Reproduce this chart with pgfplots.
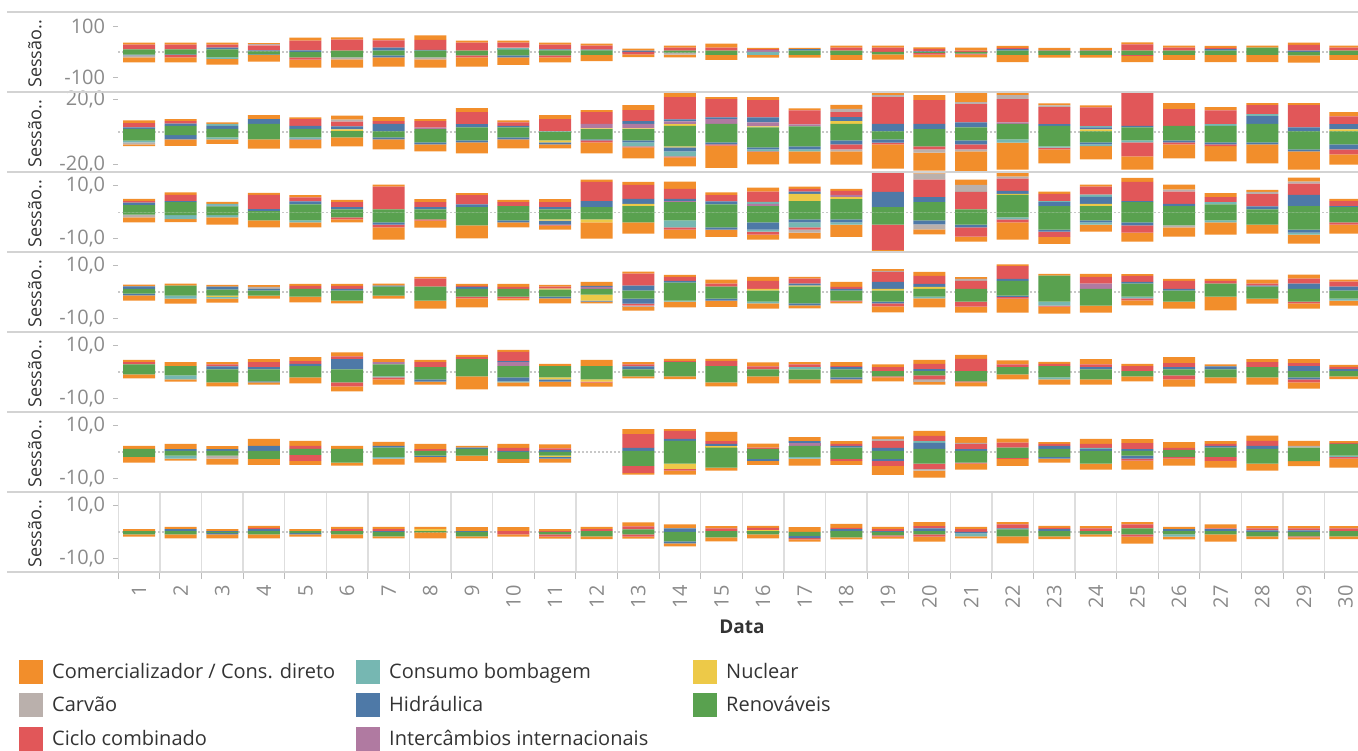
\documentclass[border=0pt]{standalone}
\usepackage{fontspec}
\setmainfont{Open Sans}
\usepackage{pgfplots}
\usepackage{pgfplotstable}
\pgfplotsset{compat=1.18}
\definecolor{cO}{HTML}{F28E2B}
\definecolor{cC}{HTML}{BAB0AC}
\definecolor{cR}{HTML}{E15759}
\definecolor{cT}{HTML}{76B7B2}
\definecolor{cB}{HTML}{4E79A7}
\definecolor{cP}{HTML}{B07AA1}
\definecolor{cY}{HTML}{EDC948}
\definecolor{cG}{HTML}{59A14F}
\definecolor{sep}{HTML}{D3D3D3}
\definecolor{vgrid}{HTML}{DEDEDE}
\definecolor{ticktext}{HTML}{8A8A8A}
\definecolor{tickc}{HTML}{BBBBBB}
\definecolor{zeroc}{HTML}{C8C8C8}
\definecolor{darktext}{HTML}{333333}
\newcommand{\ticksize}{\fontsize{20}{20}\selectfont}
\newcommand{\labsize}{\fontsize{18}{18}\selectfont}
\newcommand{\legsize}{\fontsize{20}{20}\selectfont}

% columns: d  Renovaveis Nuclear Intercambios Hidraulica Consumo Ciclo Carvao Comercializador
\pgfplotstableread{
d G Y P B T R C O
1 10.6 0 0 0 0 18.5 0 8
2 10.6 0 0 0 0 18.5 0 8
3 10.6 0 0 6.6 0 11.9 0 8
4 2.5 0 0 3.7 0 19.7 3.7 4.9
5 0 0 0 6.2 0 38 0 12.3
6 4.9 0 0 0 0 44 0 8
7 4.9 0 0 12.3 0 28.3 0 8
8 4.9 0 0 3.7 0 39.4 0 17.2
9 4.9 0 0 0 0 32 0 8
10 9.2 0 0 0 8 19.7 0 8
11 6.6 0 0 3.7 0 18.5 0 8
12 6.6 0 0 2.5 0 16 0 8
13 0 0 0 4.9 0 0 0 8
14 4.9 0 0 0 0 12.3 0 8
15 4.9 0 0 0 0 12.3 0 16
16 0 0 6.2 0 0 4.9 0 4.9
17 4.9 0 0 6.2 0 0 0 4.9
18 4.9 0 0 0 0 12.3 0 8
19 0 0 0 0 0 17.2 0 8
20 0 0 0 2.5 0 9.8 0 6.2
21 0 0 0 0 0 4.9 0 12.3
22 4.9 0 0 6.2 0 4.9 0 8
23 4.9 0 0 0 0 3.7 0 8
24 4.9 0 0 0 0 3.7 0 8
25 4.9 0 0 0 0 24.6 0 8
26 4.9 0 0 0 0 12.3 0 8
27 4.9 0 0 6.2 0 4.9 0 8
28 17.2 0 0 0 0 0 0 8
29 0 0 0 4.9 0 23.4 0 8
30 4.9 0 0 0 0 12.3 0 8
}\PaP
\pgfplotstableread{
d G Y P B T R C O
1 10.6 0 0 2.5 0 0 8 19.7
2 9.2 0 0 2.5 0 9.2 0 19.7
3 20.9 0 0 0 6.6 0 0 22.1
4 9.8 0 0 1.2 0 0 0 27
5 20.9 0 0 0 0 9.2 0 30.8
6 20.9 0 0 0 0 0 8 32
7 13.5 0 0 8 0 0 0 35.7
8 20.9 0 0 0 0 0 8 32
9 13.5 0 0 0 0 8 0 35.7
10 13.5 0 0 8 0 0 0 29.5
11 13.5 0 0 0 0 8 0 19.7
12 11.1 0 0 0 0 0 0 24.6
13 0 0 0 0 0 9.2 0 11.1
14 2.5 0 0 0 0 0 8 11.1
15 11.1 0 0 0 0 0 0 19.7
16 0 0 0 0 11.1 0 0 11.1
17 11.1 0 0 0 0 0 0 11.1
18 11.1 0 0 0 0 0 0 19.7
19 9.8 0 0 0 0 0 0 19.7
20 3.7 0 0 0 0 6.2 0 11.1
21 6.2 0 0 0 0 3.7 0 11.1
22 11.1 0 0 0 0 0 0 28.3
23 11.1 0 0 0 0 0 0 11.1
24 11.1 0 0 0 0 0 0 11.1
25 11.1 0 0 0 0 3.7 0 24.6
26 11.1 0 0 0 0 0 0 19.7
27 11.1 0 0 0 0 0 0 28.3
28 11.1 0 0 0 0 0 0 28.3
29 13.5 0 0 0 0 0 0 28.3
30 11.1 0 0 0 0 0 0 19.7
}\PaN
\pgfplotstableread{
d G Y P B T R C O
1 1.9 0 0 1 0 2.5 0 1.7
2 3.7 0 0 1.5 0 1.5 0 1.2
3 1.9 0 0 1.9 1.2 0 0 1
4 5 0 0 2.9 0 0 0 2.5
5 1.9 0 0 1.9 0 4.1 0 1.2
6 0.6 1 0 1.9 0 2.9 1.2 2.5
7 0.4 0 0 4.6 0 1.7 0 2.5
8 1.7 0 1 0 0 4 0 1.2
9 2.9 0 0 2 0 7.3 0 2.5
10 2.9 0 0 0.8 0 2.3 0 1.2
11 0 0 0 0 0.4 7.5 0 2.5
12 1.7 0.6 2.7 0 0 7.3 0 1.2
13 1.7 0.6 2.7 1.7 0 6.8 0 3.1
14 3.7 1.2 1.7 1.2 0 13.7 0 2.5
15 5 0 2.9 1.2 0 11.2 0 1.2
16 2.9 0.6 2.5 3.1 0 10.6 0 1.9
17 3.5 0 1.2 0 0 8.7 0 1.2
18 5 1.7 0 2.5 0 3.1 1.9 2.5
19 0.4 0 0 4.6 0 16.6 1.2 1.2
20 1.7 0 0 3.3 0 14.7 0 3.1
21 2.9 0 0 3.1 0 11.2 1.2 5.6
22 5 0 1 0 0 14.3 2.5 1.2
23 3.7 0 0 1.2 0 10.4 1.2 1.2
24 0.4 1.2 0 1.2 0.8 11.6 0 1.2
25 2.9 0 0 0.8 0 20.3 0.6 0
26 3.7 0 0 0 0 10.4 0 3.7
27 3.7 0 0 0 1.2 8.5 0 1.9
28 5 0 0 4.8 1.2 5.6 0 1.2
29 0.4 0 0 2.5 0 13.7 0 1.2
30 0.4 1.2 0 3.3 0 4.8 0 2.5
}\PbP
\pgfplotstableread{
d G Y P B T R C O
1 5.4 0 0 0 1 0 1.2 1.2
2 2 0 0 2.5 0 0 0 4.1
3 3.3 0 0 0 1.2 0 0 2.9
4 4.6 0 0 0 0 0 0 5.6
5 3.3 0 0 0 1.2 0.4 0 5.2
6 3.3 0 0 0 0 0 0 5.6
7 3.3 0 0 1.2 0 0 0 6.2
8 6.4 0 0 1.2 0 0 0 4.4
9 5.2 0 0 1.2 0 0 0 6.8
10 3.3 0 0 1.2 0 0 0 5.6
11 5.2 1.2 0 1.2 0 0 0 2.5
12 4.6 0 0 0.6 0 1.2 0 6.8
13 5.2 0 0 1.2 2.5 0.6 0 6.8
14 8.9 0.6 0 2.5 3.1 0.6 0 5.6
15 6.4 0 0 1.2 0 0.8 0 13.7
16 9.5 0 0 1.2 1.2 0.4 0 7.7
17 8.9 0 0 1.9 1.2 0 0 7.5
18 5.2 0 0 2.5 0 3.1 1.2 8.1
19 4.6 0 0 1.9 0 1.2 0 14.9
20 8.9 0 0 0 0 1.9 1.9 11.2
21 5.2 0 0 2.5 0 3.1 1.2 13
22 4.6 0 0 0 1.9 0 0 16.8
23 8.9 0 0 0 0.8 1 0 8.7
24 6.4 0 0 1.2 1.2 0 0 8.1
25 5.2 0 0 0 1.2 8.7 0 8.1
26 5.2 0 0 1.2 0 1.2 0 8.7
27 6.4 0 0 1.2 0 1.2 0 9.3
28 6.4 0 0 1.2 0 0 0 11.8
29 10.8 0 0 1.2 0 0 0 11.2
30 7.7 0 0 3.1 0 3.1 0 6.2
}\PbN
\pgfplotstableread{
d G Y P B T R C O
1 2.7 0 0 0.9 0 0.6 0 0.8
2 3.8 0 0 0.4 0 2.3 0 1
3 2.2 0 0 0.3 0.6 0 0 0.8
4 0.4 0 0 0.8 0 5.3 0 0.8
5 3 0 0 1.1 0 1.5 0 0.8
6 1.1 0 0 0.8 0 1.9 0 0.8
7 1.1 0 0 0 0 8.5 0 0.8
8 1.1 0 0 0.8 0 1.9 0 1.1
9 1.9 0 0 1.1 0 3.4 0 0.8
10 2.3 0 0 0 0 1.5 0 0.8
11 1.1 0 0 0.8 0 1.9 0 1.1
12 1.9 0 0 2.3 0 7.2 0 0.8
13 2.3 0.8 0 1.9 0 5.3 0 1.1
14 3.8 0 0.4 0.8 0 3.8 0 2.7
15 3 0 0 1.1 0 2.3 0 1.1
16 2.3 0 0.8 0 0.8 3.8 0 1.5
17 4.2 2.7 0 0.8 0 1.1 0 0.8
18 4.9 0.8 0.8 0 0 1.5 0 0.8
19 1.9 0 0 5.7 0 7.2 0.4 0
20 3.8 0 0 1.9 0 6.5 2.3 2.5
21 1.1 0 0 0 0 6.5 2.7 1.9
22 6.5 0.4 0 1.1 0 4.6 0.8 1.5
23 2.3 0 0 1.5 0.4 2.7 0 0.8
24 2.3 0.8 0 2.7 0.8 3 0 0.8
25 3.8 0 0 0.4 0 7.2 0 1.5
26 2.3 0 0 0.8 0 4.6 0.8 1.9
27 3 0 0 0 0.8 1.9 0 1.5
28 1.1 0 0 1.1 0 4.6 0.8 0.8
29 2.3 0 0 4.2 0 4.2 0.8 1.5
30 1.9 0 0 0.4 0 1.9 0 0.8
}\PcP
\pgfplotstableread{
d G Y P B T R C O
1 0.9 0 0 0 0 0 1 1.9
2 1.1 0 0 0 1.5 0 0 1.1
3 1.1 0 0 0 0.8 0 0 2.7
4 3 0 0 0 0 0 0 2.7
5 3 0 0 0 0.8 0 0 1.9
6 1.9 0 0 0 0 0.8 0 1.1
7 3.8 0 0 0.8 0 1.1 0 4.6
8 2.7 0 0 0 0 0.4 0 2.7
9 4.9 0 0 0 0 0 0 4.9
10 3 0 0 0.8 0 0 0 1.9
11 2.7 0.4 0 1.5 0 0.4 0 1.5
12 2.7 1.1 0 0 0 0 0 6.1
13 3.8 0 0 0 0 0 0 4.2
14 3 0 0 0 2.7 0.8 0 3.4
15 5.7 0 0 0.8 0 0 0 2.7
16 3.8 0 0 2.7 0.8 1.1 0 1.9
17 2.7 0 0 1.1 1.9 0.8 1.1 2.3
18 2.7 0 0 1.1 0.8 0 0 4.6
19 4.6 0 0 0 0 9.5 0 0.4
20 3 0 0 1.5 0 0 1.9 1.9
21 4.6 0 0 1.1 0 3.4 0 1.9
22 1.9 0 0 0 0.8 1.1 0 6.5
23 6.5 0 0 0.8 0 1.9 0 2.7
24 3 0 0 0.8 0.8 0 0 2.7
25 3.8 0 0 1.1 0 2.7 0 3.4
26 4.9 0 0 0 0 0 0.8 3.4
27 3 0 0 0 0.8 0 0 4.6
28 4.6 0 0 0 0 0 0 3.4
29 6.5 0 0 1.1 0.8 0 0 3.4
30 3.8 0 0 0 0 0.8 0 3.4
}\PcN
\pgfplotstableread{
d G Y P B T R C O
1 1.2 0 0 0.9 0 0 0 0.7
2 2.4 0 0 0 0 0 0 0.7
3 0.9 0 0 1.1 0 0 0 0.7
4 0.5 0 0 0.7 0 0 0.7 0.7
5 1.2 0 0 0 0 1.1 0 0.7
6 0.5 0 0 0.7 0 1.1 0 0.7
7 2 0 0 0.4 0 0 0 0.7
8 2 0 0 0 0 3 0 0.7
9 1.2 0 0 0.7 0 0.4 0 0.7
10 1.2 0 0 0 0 0.7 0 1.1
11 0.9 0.4 0 0 0 0.7 0 0.7
12 1.2 0 0.7 0.4 0 0 0 1.5
13 0.5 0 0 1.9 0 4.5 0 0.7
14 3.5 0 0 0.7 0 1.5 0 0.7
15 2 0 0 0 0 1.1 0 1.5
16 0.5 0.7 0 0 0 3 0 1.5
17 2 0.4 0 0.7 0 1.9 0 0.7
18 0.5 0 0 0.7 0 0.7 0 1.9
19 0.5 0.7 0 2.6 0 3.7 0.4 0.7
20 1.2 0.7 0 1.1 0 3 0 1.5
21 1.2 0 0 0 0 3 0.7 0.7
22 4.2 0 0 0.7 0 4.8 0 0.7
23 6.1 0 0 0 0 0 0 0.7
24 1.2 0 1.9 0 0 2.6 0 1.1
25 3.1 0 0 0.7 0 2.2 0 0.7
26 0.5 0 0 0.7 0 3 0 0.7
27 3.1 0 0 0 0 1.1 0 0.7
28 2 0 0 0.4 0 0.7 0 1.5
29 1.2 0 0 1.9 0 1.9 0 1.5
30 0.5 0 0 1.5 0 1.9 0 0.7
}\PdP
\pgfplotstableread{
d G Y P B T R C O
1 0.6 0 0 0.7 0 0 0 1.9
2 1.4 0 0 0 1.1 0 0 1.9
3 1.4 0.4 0 0 0.7 0 0 1.5
4 1.4 0 0 0 0 0 0 1.1
5 1.7 0 0 0 0 0 0 2.2
6 3.2 0 0 0 0 0 0 1.1
7 1.4 0 0 0 0 0 0 1.1
8 3.2 0 0 0 0 0 0 3
9 1.7 0 0 0 0 0.7 0 3.4
10 1.7 0 0 0 0 0.7 0 0.7
11 1.7 0 0 0.7 0 0 0 1.9
12 1 2.2 0 0.4 0 0 0 0.7
13 2.5 0 0 1.9 0 0.7 0.4 1.5
14 3.2 0 0 0 0.4 0 0 2.2
15 2.5 0 0 0.7 0 0 0 2.4
16 3.6 0 0 0 0.7 0 0 1.9
17 4.3 0 0 0.7 0 0 0 1.1
18 3.2 0 0 0 0 0.4 0 0.7
19 3.6 0 0 0.7 0 1.1 0 2.2
20 1.7 0 0 0 0.7 0 0 3.4
21 3.6 0 0 0 0 1.9 0 2.2
22 1.4 0 0 0.4 0 0.7 0 5.2
23 3.6 0 0 0 1.5 0.4 0 2.6
24 5.1 0 0 0 0 0 0 2.6
25 1.7 0 0 0 0.7 0.7 0 1.9
26 3.6 0 0 0 0 0 0 2.6
27 1.7 0 0 0 0 0 0 5.2
28 2.5 0 0 0 0 0 0 1.9
29 3.6 0 0 0 0 0.7 0 1.9
30 2.5 0 0 0 0.7 0 0 1.9
}\PdN
\pgfplotstableread{
d G Y P B T R C O
1 2.9 0 0 0 0 0.8 0 0.8
2 2.2 0 0 0 0 0 0 1.5
3 1 0 0 1.1 0 0.8 0 0.8
4 1 0 0 0.8 0 1.9 0 1.1
5 2.2 0 0 0.8 0 1.1 0 1.5
6 1 0 0 3.8 0 1.1 0 1.5
7 2.9 0 0.8 0 0 0 0 1.1
8 1.8 0 0 0 0 1.9 0 0.8
9 4.8 0 0 0 0 0.8 0 0.8
10 2.2 0 1.5 0.4 0 3.4 0 0.8
11 2.2 0 0 0 0 0 0 0.8
12 2.2 0 0 0 0 0 0 2.3
13 1 0 0 1.1 0 0.8 0 0.8
14 3.7 0 0 0 0 0.4 0 0.8
15 2.2 0 0 0 0 1.9 0 0.8
16 1 0 0 0 0 1.1 0 1.5
17 1 0 0 0 0.8 1.1 0 0.8
18 1 0 0 0.8 0 0.4 0 1.5
19 0.3 0 0 0 0 1.5 0 1.1
20 0.3 0 0 0.8 0 1.9 0 1.5
21 0.3 0 0 0 0 4.6 0 1.5
22 1.8 0 0 0 0 1.1 0 1.5
23 2.2 0 0 0 0 0.8 0 0.8
24 1 0 0 0.8 0 1.1 0 1.9
25 0.3 0 0 0 0 1.9 0 0.8
26 1 0 0 0.8 0 1.5 0 2.3
27 1 0 0 1.1 0 0 0 0.8
28 1.8 0 0 0 0 1.9 0 1.1
29 0.3 0 0 1.9 0 1.1 0 1.5
30 0.3 0 0 0.8 0 0.8 0 0.8
}\PeP
\pgfplotstableread{
d G Y P B T R C O
1 0.9 0 0 0 0 0 0 1.5
2 1.3 0 0 0 1.5 0 0 0.8
3 3.9 0 0 0 0 0 0 1.5
4 3.5 0 0 0.4 0 0 0 0.8
5 2 0 0 0 0 0 0 2.3
6 3.9 0 0 0 0 1.5 0 1.9
7 1.6 0 0 0 0.4 0.8 0 1.9
8 2.8 0 0 0.8 0 0 0 1.1
9 1.6 0 0 0 0 0 0 4.9
10 2 0 0 1.5 0.4 0 0 1.5
11 2 0.8 0 0.8 0 0 0 1.9
12 2.8 0.8 0 0 0 0.4 0 1.5
13 1.6 0 0 0 0 0 0 0.8
14 1.6 0 0 0 0 0 0 1.1
15 3.9 0 0 0 0 0 0 1.5
16 1.6 0 0 0 0 0 0 2.7
17 2.8 0 0 0 0 0 0 1.5
18 2 0 0 0.8 0 0 0 1.5
19 1.6 0 0 0 0 0.4 0 1.5
20 1.3 0 0 0 0 1.5 0.8 1.1
21 3.5 0 0 0 0 0.4 0 1.5
22 0.9 0 0 0 0 0 0 1.9
23 2 0 0 0 0.8 0 0 1.9
24 2.8 0 0 0 0 0 0 1.9
25 1.6 0 0 0 0 0 0 1.9
26 1.3 0 0 0 0 1.5 0 2.7
27 2 0 0 0 0 0 0 2.3
28 2 0 0 0 0 0 0 2.7
29 2 0 0 0.8 0 1.1 0 2.3
30 1.6 0 0 0 0 0 0 1.1
}\PeN
\pgfplotstableread{
d G Y P B T R C O
1 1.2 0 0 0 0 0 0 1.1
2 0.4 0 0 0.7 0 0 0 1.9
3 0.4 0 0 0.7 0 0 0 1.1
4 0.4 0 0 1.9 0 0 0 2.6
5 1.2 0 0 0 0 1.1 0 1.9
6 1.2 0 0 0 0 0 0 1.1
7 1.6 0 0 0.7 0 0 0 1.5
8 0.4 0 0 0 0 0.7 0 1.9
9 1.2 0 0 0.4 0 0 0 0.7
10 0 0 0 0.4 0 1.1 0 1.5
11 0 0 0 0.7 0 0.7 0 1.5
12 0 0 0 0 0 0 0 0
13 0.4 0 0 1.1 0 5.2 0 1.9
14 4.2 0 0 0.7 0 3 0 0.7
15 1.6 0.7 0 0.7 0 1.1 0 3.4
16 1.2 0 0 0 0 0.4 0 1.5
17 2.3 0 1.1 0.7 0 0 0 1.5
18 1.6 0 0 0.7 0 0.7 0 1.1
19 0.4 0 0 1.1 0 2.6 0.7 1.1
20 1.2 0 0 2.2 0.7 1.9 0 1.9
21 0.4 0 0 0.7 0 1.9 0.4 2.2
22 1.6 0 0 0 0 1.9 0 1.5
23 1.2 0 0 1.1 0 0.7 0 0.7
24 0.4 0 0 0.7 0.4 1.5 0 1.9
25 0.4 0 0 0.7 0 2.2 0 1.5
26 0.8 0 0 0 0 0.7 0 2.2
27 1.6 0 0 0.7 0 0.7 0 1.1
28 1.2 0 0 1.1 0 1.9 0 1.9
29 1.6 0 0 0 0 0 0.7 1.9
30 3 0 0 0 0 0.4 0 0.7
}\PfP
\pgfplotstableread{
d G Y P B T R C O
1 1.8 0 0 0 0 0 0 2.2
2 1.4 0 0 0 1.1 0 0 0.7
3 1.4 0 0 0 0 0 1.1 2.2
4 2.6 0 0 0 0 0 0 2.2
5 1.1 0 0 0 0 2.2 0 1.5
6 4 0 0 0 0 0 0 1.1
7 1.8 0 0 0 0.7 0 0 2.2
8 1.4 0 0 0.4 0 0 0 2.2
9 1.4 0 0 0 0 0 0 1.9
10 2.6 0 0 0 0 0 0 1.5
11 1.4 0.4 0 0.7 0 0 0 1.5
12 0 0 0 0 0 0 0 0
13 5.2 0 0 0 0 2.6 0 0.7
14 4.4 1.9 0 0 0 0.7 0 1.5
15 5.9 0 0 0 0 0 0 1.1
16 2.6 0 0 0.7 0 0 0 1.5
17 1.8 0 0 0 0.7 0 0 2.6
18 2.6 0 0 0 0 0.7 0 1.5
19 2.6 0 0 0.7 0 1.9 0 3.4
20 4.4 0 0 0 0 1.9 0.7 2.6
21 4 0 0 0 0 0.4 0 2.2
22 2.2 0 0 0 0 0.4 0 2.6
23 1.8 0 0 0.7 0 0 0 1.5
24 4.4 0 0 0 0 0 0 2.2
25 1.4 0 0 1.1 0 0.7 0 3.4
26 1.8 0 0 0 0 0.7 0 2.6
27 1.8 0 0 0 0 1.5 0 2.6
28 4.4 0 0 0 0 0 0 2.6
29 3.4 0 0 0 0 0 0 1.9
30 1.4 0 0 0 0.4 0.7 0 3.4
}\PfN
\pgfplotstableread{
d G Y P B T R C O
1 0.3 0 0 0 0 0 0 0.8
2 0.3 0 0 0.8 0 0 0 0.8
3 0 0 0 0.3 0 0 0 0.8
4 0.3 0 0 0.8 0 0.4 0 0.8
5 0.3 0 0 0 0 0 0 0.8
6 0.3 0 0 0 0 0.8 0 0.8
7 0 0 0 0.3 0 0.8 0 0.8
8 0.3 0.8 0 0 0 0 0 0.8
9 0 0 0 0.3 0 0 0 1.5
10 0 0 0 0 0 0.3 0 1.5
11 0 0 0 0 0 0.3 0 0.8
12 0.3 0 0 0 0 0.8 0 0.8
13 1 0 0 0 0 1.1 0 1.5
14 0 0 0 1.4 0 0 0 1.5
15 0.3 0 0 0 0 1.1 0 0.8
16 0.3 0.4 0 0 0 0.8 0 0.8
17 0 0 0 0 0 0 0 1.8
18 0.3 0 0 0.8 0 0.4 0 1.5
19 0 0 0 0.3 0 0.8 0 0.8
20 0.3 0 0 1.1 0 0.8 0 1.5
21 0 0 0 0 0 1.1 0 0.8
22 1 0 0 0.4 0 1.5 0 0.8
23 0.3 0 0 0.8 0 0.4 0 0.8
24 0.3 0 0 0 0 1.1 0 0.8
25 1.4 0 0 0 0 1.5 0 0.8
26 0.3 0 0 0.8 0 0 0 0.8
27 0.3 0 0 0.8 0 0.3 0 1.5
28 0 0 0 0.6 0 0.8 0 0.8
29 0 0 0 0.6 0 0.8 0 0.8
30 0.3 0 0 0 0 1.1 0 0.8
}\PgP
\pgfplotstableread{
d G Y P B T R C O
1 0.9 0 0 0 0 0 0 0.8
2 0.9 0 0 0 0 0 0 1.5
3 0.4 0 0 0.5 0 0 0 1.5
4 0.9 0 0 0 0 0 0 1.5
5 0.4 0 0 0.5 0 0 0 0.8
6 0.9 0 0 0 0 0 0 1.5
7 1.6 0 0 0 0 0 0 0.8
8 0.1 0 0 0 0 0 0 2.3
9 1.6 0 0 0 0 0 0 0.8
10 0 0 0 0 0 0.9 0 0.8
11 0.9 0 0 0 0 0.8 0 0.8
12 1.6 0 0 0 0 0 0 1.1
13 0.9 0 0 0 0 0.8 0 0.8
14 3.5 0 0 0.8 0 0 0 1.1
15 2 0 0 0 0 0 0 1.5
16 0.9 0 0 0 0 0 0 1.5
17 1.5 0 0 0.8 0 0.5 0 0.8
18 2 0 0 0 0 0 0 0.8
19 1.3 0 0 0 0 0.4 0 0.8
20 0.9 0 0 0 0 0.8 0 1.9
21 0 0 0 0.5 1.1 0 0 0.8
22 1.6 0 0 0 0 0 0 2.7
23 1.6 0 0 0 0 0 0 1.1
24 0.9 0 0 0 0 0 0 0.8
25 0.9 0 0 0 0 0.8 0 2.7
26 0.9 0 0 0 0.8 0 0 1.1
27 0.9 0 0 0 0 0 0 2.7
28 1.6 0 0 0 0 0 0 1.1
29 1.6 0 0 0 0 0.4 0 0.8
30 1.6 0 0 0 0 0 0 1.1
}\PgN

\pgfplotsset{
  panelbase/.style={
    scale only axis, width=1248pt, height=80pt, anchor=north west,
    xmin=0.5, xmax=30.5, enlargelimits=false,
    ybar stacked, bar width=32pt,
  },
  panelvis/.style={
    panelbase,
    axis line style={draw=none},
    tick pos=left, tick align=outside,
    xtick=\empty,
    minor xtick={0.5,1.5,...,30.5},
    xminorgrids=true,
    minor grid style={vgrid, line width=1.3pt},
    minor tick length=0pt, major tick length=5pt,
    ytick style={tickc, line width=0.9pt},
    yticklabel style={font=\ticksize, text=ticktext, inner sep=0pt, xshift=-8pt},
    extra y ticks={0}, extra y tick labels={},
    extra y tick style={grid=major, tick style={draw=none}},
    major grid style={zeroc, line width=1.4pt, dash pattern=on 2pt off 2pt},
  },
  panelneg/.style={panelbase, hide axis},
}

\newcommand{\bars}[2]{%
  \addplot[fill=cG,draw=none] table[x=d,y expr=#2*\thisrow{G}]{#1};
  \addplot[fill=cY,draw=none] table[x=d,y expr=#2*\thisrow{Y}]{#1};
  \addplot[fill=cP,draw=none] table[x=d,y expr=#2*\thisrow{P}]{#1};
  \addplot[fill=cB,draw=none] table[x=d,y expr=#2*\thisrow{B}]{#1};
  \addplot[fill=cT,draw=none] table[x=d,y expr=#2*\thisrow{T}]{#1};
  \addplot[fill=cR,draw=none] table[x=d,y expr=#2*\thisrow{R}]{#1};
  \addplot[fill=cC,draw=none] table[x=d,y expr=#2*\thisrow{C}]{#1};
  \addplot[fill=cO,draw=none] table[x=d,y expr=#2*\thisrow{O}]{#1};
}
% #1 top (pt), #2 ymin, #3 ymax, #4 ticks, #5 labels, #6 pos table, #7 neg table, #8 extra
\newcommand{\panel}[8]{%
  \begin{axis}[panelvis, at={(118.3pt,#1pt)}, ymin=#2, ymax=#3, ytick={#4}, yticklabels={#5}, #8]
    \bars{#6}{1}
  \end{axis}
  \begin{axis}[panelneg, at={(118.3pt,#1pt)}, ymin=#2, ymax=#3]
    \bars{#7}{-1}
  \end{axis}
  \node[rotate=90, font=\labsize, text=darktext] at (35pt,#1pt-42pt) {Sessão..};
}

\begin{document}
\begin{tikzpicture}
\useasboundingbox (0,0) rectangle (1358pt,751pt);
\panel{739}{-157}{157}{-100,100}{-100,100}{\PaP}{\PaN}{}
\panel{659}{-24.7}{24.7}{-20,20}{{-20,0},{20,0}}{\PbP}{\PbN}{}
\panel{579}{-14.9}{15.1}{-10,10}{{-10,0},{10,0}}{\PcP}{\PcN}{}
\panel{499}{-15}{15}{-10,10}{{-10,0},{10,0}}{\PdP}{\PdN}{}
\panel{419}{-15}{15}{-10,10}{{-10,0},{10,0}}{\PeP}{\PeN}{}
\panel{339}{-15}{15}{-10,10}{{-10,0},{10,0}}{\PfP}{\PfN}{}
\panel{259}{-15}{15}{-10,10}{{-10,0},{10,0}}{\PgP}{\PgN}{xtick={1,...,30}, xticklabels={1,2,3,4,5,6,7,8,9,10,11,12,13,14,15,16,17,18,19,20,21,22,23,24,25,26,27,28,29,30}, major x tick style={draw=none}, minor tick length=7pt, minor x tick style={tickc, line width=0.9pt}, xticklabel style={yshift=-8pt, rotate=90, anchor=east, font=\ticksize, text=ticktext, inner sep=0pt}}
% pane separators
\foreach \yy in {739,659,579,499,419,339,259,179}{
  \draw[sep, line width=1.6pt] (7pt,\yy pt) -- (1358pt,\yy pt);
}
\node[font=\bfseries\fontsize{19}{19}\selectfont, text=darktext] at (742pt,124pt) {Data};
% legend
\fill[cO] (19pt,91pt) rectangle ++(24pt,-24pt);
\fill[cC] (19pt,58.3pt) rectangle ++(24pt,-24pt);
\fill[cR] (19pt,24pt) rectangle ++(24pt,-24pt);
\fill[cT] (356pt,91pt) rectangle ++(24pt,-24pt);
\fill[cB] (356pt,58.3pt) rectangle ++(24pt,-24pt);
\fill[cP] (356pt,24pt) rectangle ++(24pt,-24pt);
\fill[cY] (693pt,91pt) rectangle ++(24pt,-24pt);
\fill[cG] (693pt,58.3pt) rectangle ++(24pt,-24pt);
\begin{scope}[every node/.style={anchor=base west, font=\legsize, text=darktext, inner sep=0pt}]
\node at (52pt,72pt) {Comercializador / Cons. direto};
\node at (52pt,39pt) {Carvão};
\node at (52pt,5pt) {Ciclo combinado};
\node at (389pt,72pt) {Consumo bombagem};
\node at (389pt,39pt) {Hidráulica};
\node at (389pt,5pt) {Intercâmbios internacionais};
\node at (726pt,72pt) {Nuclear};
\node at (726pt,39pt) {Renováveis};
\end{scope}
\end{tikzpicture}
\end{document}
